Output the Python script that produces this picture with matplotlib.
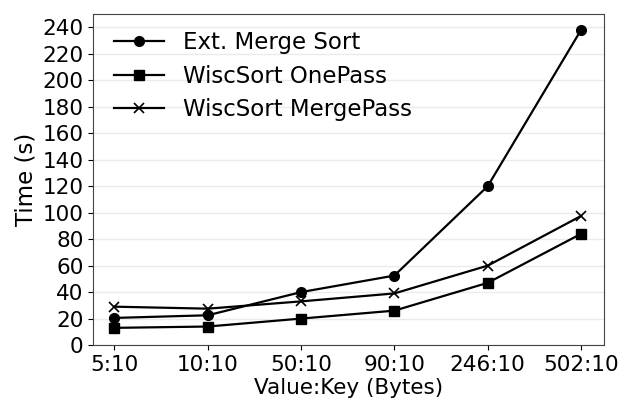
import numpy as np
import matplotlib.pyplot as plt

labels = ["5:10", "10:10", "50:10", "90:10", "246:10", "502:10"]
ext_merge = [20.5, 22.5, 40, 52.5, 120, 238]
one_pass = [13, 14, 20, 26, 47, 84]
merge_pass = [29, 27.5, 33, 39, 60, 97.5]

fig, ax = plt.subplots(figsize=(6.23, 4.05), dpi=100)
x = np.arange(len(labels))

ax.plot(x, ext_merge, color="black", marker="o", markersize=7, lw=1.6, label="Ext. Merge Sort")
ax.plot(x, one_pass, color="black", marker="s", markersize=7, lw=1.6, label="WiscSort OnePass")
ax.plot(x, merge_pass, color="black", marker="x", markersize=7, lw=1.6, mew=1.2, label="WiscSort MergePass")

ax.set_xticks(x)
ax.set_xticklabels(labels)
ax.set_yticks(np.arange(0, 241, 20))
ax.set_ylim(0, 250)
ax.set_xlim(-0.225, 5.25)
ax.grid(axis="y", color="#ebebeb", lw=1)
ax.set_axisbelow(True)
ax.tick_params(labelsize=15.5)
ax.set_xlabel("Value:Key (Bytes)", fontsize=15.5, labelpad=2)
ax.set_ylabel("Time (s)", fontsize=16.5)
for s in ax.spines.values():
    s.set_color("#444444")
ax.legend(frameon=False, fontsize=16.5, loc="upper left", handlelength=2.2,
          labelspacing=0.45, bbox_to_anchor=(0.0, 1.01))

plt.subplots_adjust(left=0.15, right=0.97, top=0.965, bottom=0.148)
plt.savefig("out.png")
